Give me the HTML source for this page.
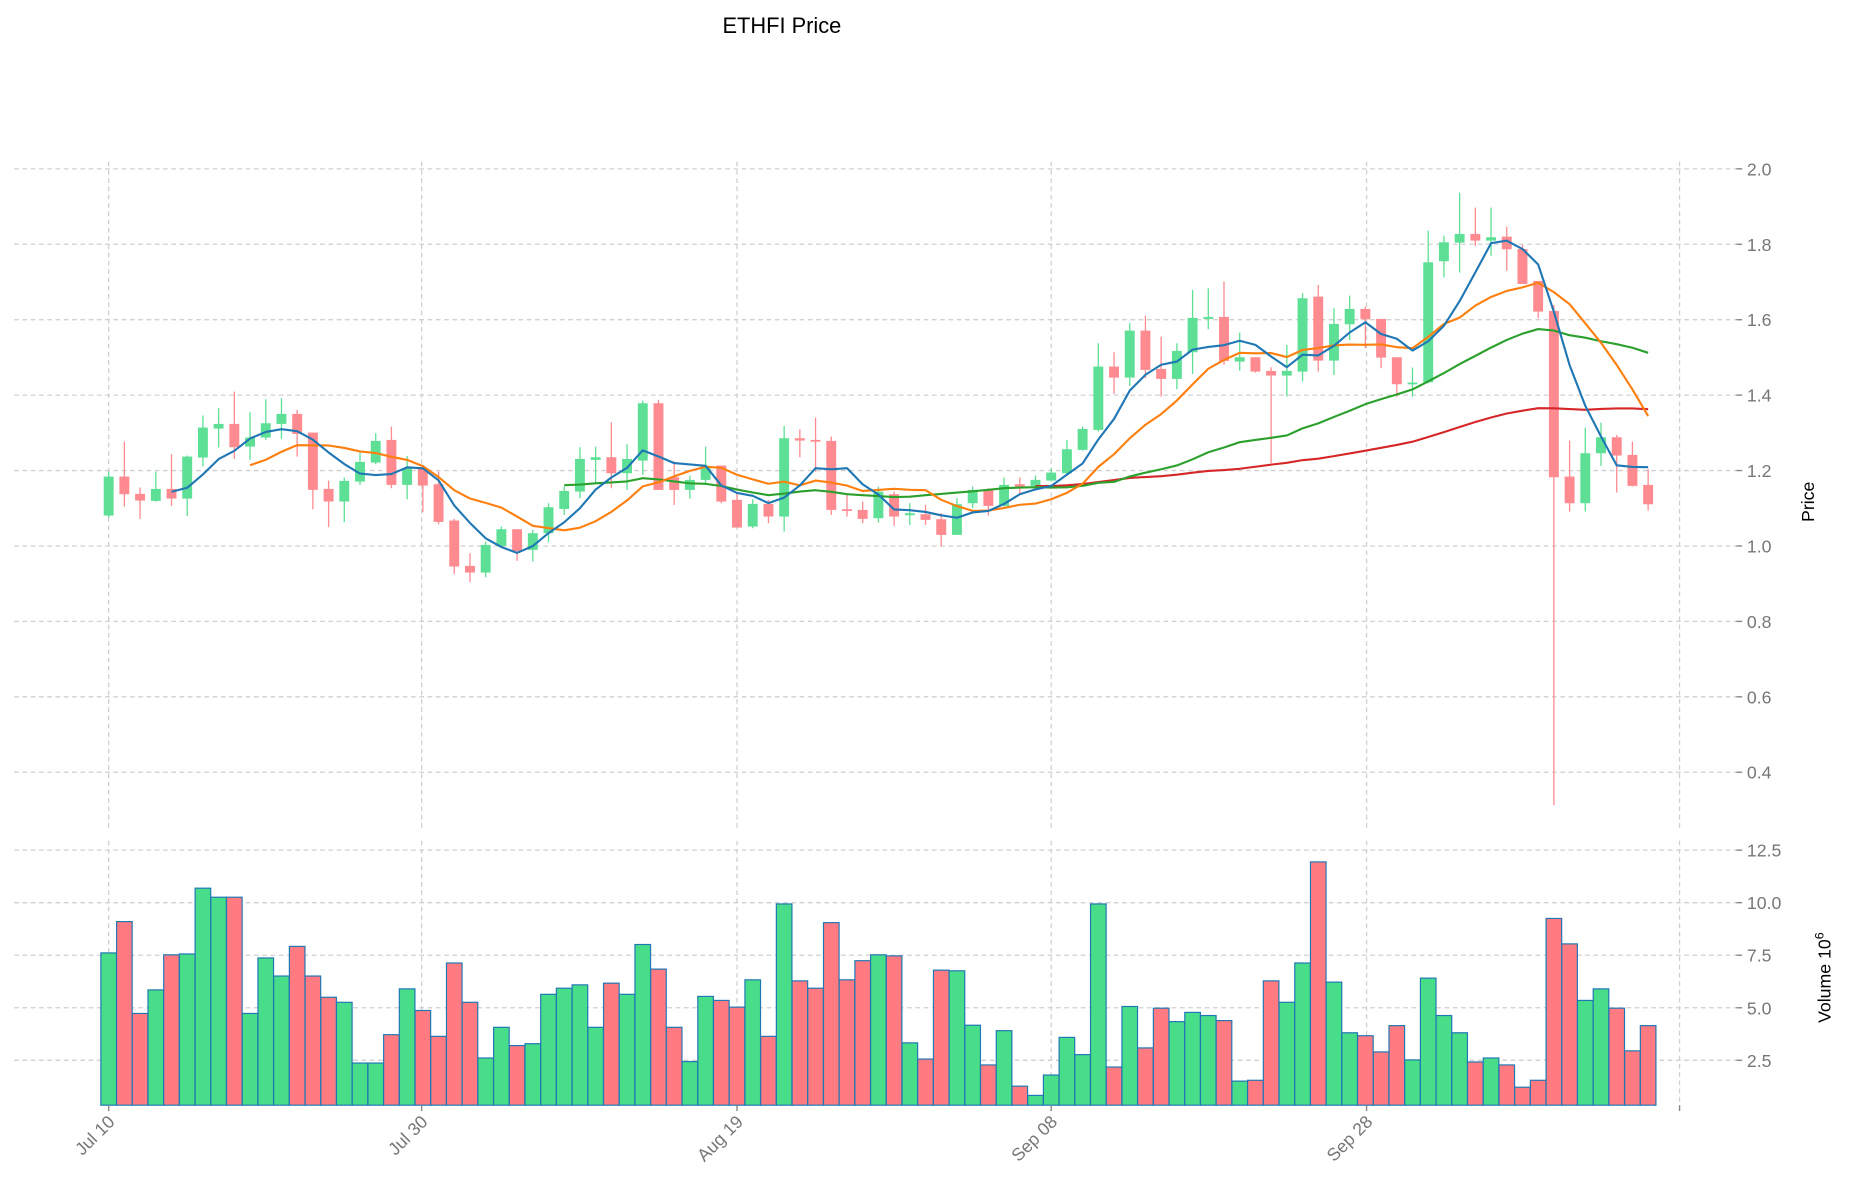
<!DOCTYPE html>
<html><head><meta charset="utf-8"><style>
html,body{margin:0;padding:0;background:#fff;}
svg{display:block;}
text{font-family:"Liberation Sans","DejaVu Sans",sans-serif;}
</style></head><body>
<svg id="s" width="1852" height="1202" viewBox="0 0 1568 1018" preserveAspectRatio="none" xmlns="http://www.w3.org/2000/svg">
<rect width="1568" height="1018" fill="#fff"/>
<g id="grid"></g><g id="vol"></g><g id="cand"></g><g id="ma"></g><g id="ax"></g>
<text x="662" y="28" font-size="18.5" text-anchor="middle" fill="#000">ETHFI Price</text>
<text transform="translate(1536,425) rotate(-90)" font-size="15" text-anchor="middle" fill="#000">Price</text>
<text transform="translate(1550,828) rotate(-90)" font-size="15" text-anchor="middle" fill="#000">Volume  10<tspan font-size="10.5" dy="-6">6</tspan></text>
</svg>
<script>
var NS="http://www.w3.org/2000/svg";
function el(g,t,a,txt){var e=document.createElementNS(NS,t);for(var k in a)e.setAttribute(k,a[k]);if(txt!==undefined)e.textContent=txt;document.getElementById(g).appendChild(e);return e;}
var D=[
[557,440,425,563],[440,493,335,530],[492,512,473,567],[513,477,425,515],[477,506,373,528],
[506,380,377,558],[383,293,257,410],[296,282,235,353],[282,352,185,387],[350,323,247,390],
[323,280,208,330],[282,252,205,327],[252,312,240,380],[308,480,308,538],[477,515,452,592],
[515,453,443,577],[455,396,365,465],[398,333,310,403],[330,465,290,475],[465,415,378,508],
[415,467,410,547],[463,576,425,583],[572,710,567,733],[708,728,670,757],[728,645,635,742],
[648,598,590,650],[598,663,598,693],[660,610,600,695],[610,532,520,637],[537,483,470,555],
[485,387,352,505],[390,382,350,460],[382,430,277,475],[430,387,343,480],[392,220,212,435],
[220,480,210,480],[442,480,395,525],[480,450,437,507],[450,408,350,465],[407,515,407,520],
[510,593,488,593],[590,522,508,595],[522,560,510,580],[560,325,288,605],[325,332,298,382],
[330,335,263,425],[333,540,320,555],[538,542,495,560],[540,567,515,580],
[805,725,710,818],[733,800,725,828],[796,790,760,825],[793,810,765,825],[808,855,790,890],
[855,763,745,855],[760,720,710,775],[720,768,715,797],[768,705,683,770],[703,710,683,730],
[708,690,677,710],[692,668,655,695],[670,598,570,672],[600,537,530,602],[540,350,280,545],
[350,383,307,432],[383,242,220,408],[242,360,197,385],[357,387,260,440],[387,303,280,418],
[307,204,120,372],[207,201,115,238],[201,333,95,345],[335,322,248,362],[322,365,322,368],
[603,617,592,880],[617,603,525,680],[605,385,370,635],[380,572,345,605],[572,462,415,615],
[463,417,377,510],[417,448,410,535],[447,563,447,595],[562,643,562,680],[642,638,593,680],
[637,277,182,640],[274,217,197,323],[218,192,68,308],[192,212,113,228],[212,202,113,258],
[200,238,170,302],[237,342,225,342],[333,425,333,445],[423,922,405,1906],[920,1000,812,1025],
[1000,850,773,1025],[850,802,758,888],[802,857,795,968],[855,948,815,950],[945,1003,898,1022]];
var V=[7.61,9.10,4.73,5.85,7.52,7.56,10.69,10.26,10.26,4.73,7.37,6.51,7.92,6.51,5.5,5.26,2.37,2.37,3.72,5.9,
4.87,3.64,7.13,5.26,2.61,4.07,3.2,3.29,5.64,5.93,6.09,4.07,6.17,5.64,8.01,6.84,4.07,2.44,5.54,5.35,
5.03,6.33,3.64,9.94,6.28,5.93,9.05,6.33,7.24,7.52,7.47,3.33,2.56,6.79,6.76,4.17,2.28,3.91,1.27,0.83,
1.8,3.59,2.77,9.94,2.18,5.06,3.09,4.98,4.34,4.78,4.63,4.39,1.51,1.55,6.28,5.26,7.13,11.94,6.22,3.81,
3.67,2.9,4.15,2.52,6.41,4.63,3.81,2.42,2.61,2.28,1.22,1.55,9.25,8.04,5.35,5.9,4.98,2.95,4.15];
function Y(i,z){var off=i<49?330:(i<74?250:170);return (off+z/3)/1.181;}
function X(i){return 92+i*13.3;}
var dash={"stroke":"#d0d0d0","stroke-width":"1.1","stroke-dasharray":"4,3"};
function ln(g,x1,y1,x2,y2,a){var o={x1:x1,y1:y1,x2:x2,y2:y2};for(var k in a)o[k]=a[k];return el(g,"line",o);}
var pt=[2.0,1.8,1.6,1.4,1.2,1.0,0.8,0.6,0.4];
pt.forEach(function(p){var y=143+(2-p)*319.4;ln("grid",12,y,1470,y,dash);ln("ax",1470,y,1475,y,{stroke:"#888","stroke-width":1.2});
el("ax","text",{x:1479,y:y+5.5,"font-size":15,fill:"#777"},p.toFixed(1));});
[12.5,10,7.5,5,2.5].forEach(function(v){var y=942.5-17.8*v;ln("grid",12,y,1470,y,dash);ln("ax",1470,y,1475,y,{stroke:"#888","stroke-width":1.2});
el("ax","text",{x:1479,y:y+5.5,"font-size":15,fill:"#777"},v.toFixed(1));});
var xs=[[92,"Jul 10"],[357,"Jul 30"],[624,"Aug 19"],[890,"Sep 08"],[1157,"Sep 28"],[1422,""]];
xs.forEach(function(a){ln("grid",a[0],137,a[0],703,dash);ln("grid",a[0],712,a[0],936,dash);
ln("ax",a[0],936,a[0],941,{stroke:"#888","stroke-width":1.2});
if(a[1])el("ax","text",{transform:"translate("+(a[0]+6)+",951) rotate(-45)","font-size":15,fill:"#777","text-anchor":"end"},a[1]);});
for(var i=0;i<99;i++){var d=D[i];var up=d[1]<=d[0];var vy=942.5-17.8*V[i];
el("vol","rect",{x:X(i)-6.6,y:vy,width:13.2,height:936-vy,fill:up?"#48dd88":"#ff7b81",stroke:"#1f77b4","stroke-width":1});}
for(var i=0;i<99;i++){var d=D[i];var up=d[1]<=d[0];var c=up?"#5de095":"#ff8a90";var x=X(i);
var o=Y(i,d[0]),cl=Y(i,d[1]),h=Y(i,d[2]),l=Y(i,d[3]);
el("cand","line",{x1:x,y1:h,x2:x,y2:l,stroke:c,"stroke-width":1.1});
var t=Math.min(o,cl),b=Math.max(o,cl);if(b-t<1.5){b=t+1.5;}
el("cand","rect",{x:x-4.2,y:t,width:8.4,height:b-t,fill:c});}
var C=D.map(function(d,i){return Y(i,d[1]);});
function ma(n,col){var pts=[];for(var i=n-1;i<99;i++){var s=0;for(var j=i-n+1;j<=i;j++)s+=C[j];pts.push(X(i).toFixed(1)+","+(s/n).toFixed(1));}
el("ma","polyline",{points:pts.join(" "),fill:"none",stroke:col,"stroke-width":1.8,"stroke-linejoin":"round"});}
ma(60,"#d62728");ma(30,"#2ca02c");ma(10,"#ff7f0e");ma(5,"#1f77b4");
</script>
</body></html>
